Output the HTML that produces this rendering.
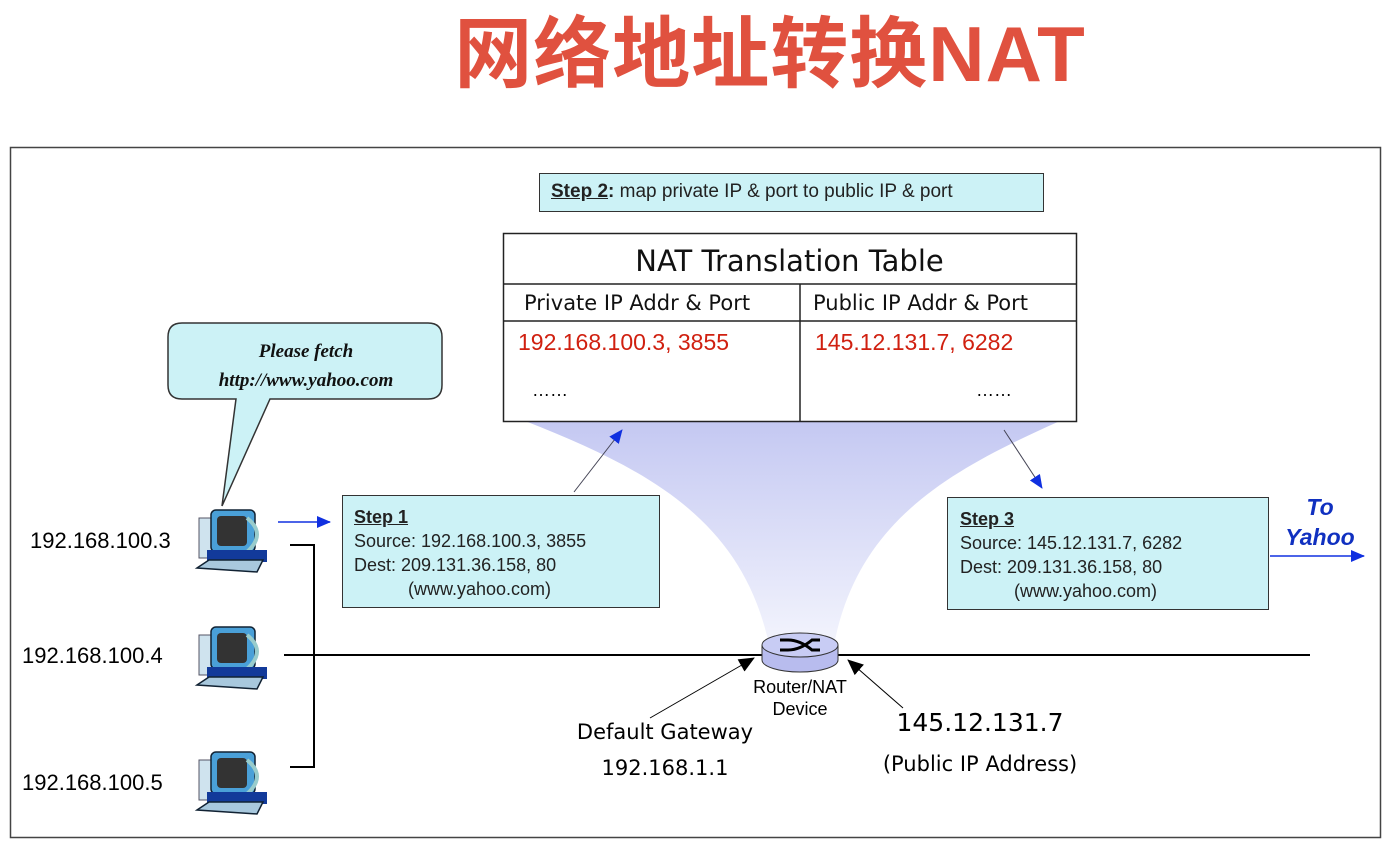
<!DOCTYPE html>
<html><head><meta charset="utf-8"><style>
body{margin:0;width:1394px;height:849px;background:#fff;position:relative;overflow:hidden;font-family:"Liberation Sans",sans-serif}
.a{position:absolute}
</style></head><body>
<div class="a" style="left:0;width:1540px;top:-8px;text-align:center;font:bold 78px 'Liberation Sans','Noto Sans CJK SC',sans-serif;color:#e0513f;letter-spacing:1px">网络地址转换NAT</div>
<svg class="a" style="left:0;top:0" width="1394" height="849">
<defs>
<linearGradient id="g" x1="0" y1="0" x2="0" y2="1"><stop offset="0" stop-color="#c4c8f2"/><stop offset="1" stop-color="#f4f5fd"/></linearGradient>
<marker id="bl" markerWidth="14" markerHeight="12" refX="13" refY="6" orient="auto" markerUnits="userSpaceOnUse"><path d="M0,0 L14,6 L0,12z" fill="#1030e0"/></marker>
<marker id="bk" markerWidth="16" markerHeight="14" refX="15" refY="7" orient="auto" markerUnits="userSpaceOnUse"><path d="M0,0 L16,7 L0,14z" fill="#000"/></marker>
<g id="pc">
<rect x="2" y="8" width="14" height="40" fill="#cfe3ee" stroke="#556" stroke-width="1"/>
<rect x="14" y="0" width="44" height="42" rx="5" fill="#4aa0d8" stroke="#123" stroke-width="1.5"/>
<rect x="20" y="6" width="30" height="30" rx="4" fill="#333"/>
<path d="M50,8 q20,16 0,34" stroke="#9cc" stroke-width="4" fill="none"/>
<rect x="10" y="40" width="60" height="12" fill="#123a9a"/>
<path d="M0,58 L12,50 L66,50 L60,62 Z" fill="#a8c8dd" stroke="#123" stroke-width="1.5"/>
</g>
</defs>
<rect x="10.5" y="147.5" width="1370" height="690" fill="none" stroke="#444" stroke-width="1.5"/>
<path d="M525,421 L1060,421 C950,470 860,520 835,640 L815,650 L790,650 L768,640 C740,520 650,470 525,421Z" fill="url(#g)"/>
<rect x="539.5" y="173.5" width="504" height="38" fill="#ccf2f6" stroke="#333"/>
<rect x="503.5" y="233.5" width="573" height="188" fill="#fff" stroke="#222" stroke-width="1.5"/>
<line x1="503" y1="284" x2="1076" y2="284" stroke="#222" stroke-width="1.5"/>
<line x1="503" y1="321" x2="1076" y2="321" stroke="#222" stroke-width="1.5"/>
<line x1="800" y1="284" x2="800" y2="421" stroke="#222" stroke-width="1.5"/>
<rect x="342.5" y="495.5" width="317" height="112" fill="#ccf2f6" stroke="#333"/>
<rect x="947.5" y="497.5" width="321" height="112" fill="#ccf2f6" stroke="#333"/>
<path d="M182,323 L428,323 Q442,323 442,337 L442,385 Q442,399 428,399 L270,399 L222,506 L236,399 L182,399 Q168,399 168,385 L168,337 Q168,323 182,323Z" fill="#ccf2f6" stroke="#333" stroke-width="1.5"/>
<line x1="284" y1="655" x2="1310" y2="655" stroke="#000" stroke-width="2"/>
<path d="M290,545 L314,545 L314,767 L290,767" fill="none" stroke="#000" stroke-width="2"/>
<line x1="278" y1="522" x2="330" y2="522" stroke="#1030e0" stroke-width="1.5" marker-end="url(#bl)"/>
<line x1="1270" y1="556" x2="1364" y2="556" stroke="#1030e0" stroke-width="1.5" marker-end="url(#bl)"/>
<line x1="574" y1="492" x2="622" y2="430" stroke="#445" stroke-width="1" marker-end="url(#bl)"/>
<line x1="1004" y1="430" x2="1042" y2="488" stroke="#445" stroke-width="1" marker-end="url(#bl)"/>
<ellipse cx="800" cy="660" rx="38" ry="12" fill="#b8bcee" stroke="#333"/>
<rect x="762" y="645" width="76" height="15" fill="#b8bcee"/>
<line x1="762" y1="645" x2="762" y2="660" stroke="#333"/><line x1="838" y1="645" x2="838" y2="660" stroke="#333"/>
<ellipse cx="800" cy="645" rx="38" ry="12" fill="#c8ccf4" stroke="#333"/>
<path d="M780,640 h8 q12,0 24,10 h8 M780,650 h8 q12,0 24,-10 h8" stroke="#000" stroke-width="3" fill="none"/>
<line x1="650" y1="718" x2="754" y2="658" stroke="#000" stroke-width="1" marker-end="url(#bk)"/>
<line x1="903" y1="708" x2="848" y2="660" stroke="#000" stroke-width="1" marker-end="url(#bk)"/>
<use href="#pc" x="197" y="510"/><use href="#pc" x="197" y="627"/><use href="#pc" x="197" y="752"/>
</svg>
<div class="a" style="left:551px;top:181px;font-size:19px;color:#222"><b><u>Step 2</u>:</b> map private IP &amp; port to public IP &amp; port</div>
<div class="a" style="left:503px;width:573px;top:244px;text-align:center;font:29px 'DejaVu Sans',sans-serif;color:#111">NAT Translation Table</div>
<div class="a" style="left:524px;top:291px;font:21px 'DejaVu Sans',sans-serif;color:#111">Private IP Addr &amp; Port</div>
<div class="a" style="left:813px;top:291px;font:21px 'DejaVu Sans',sans-serif;color:#111">Public IP Addr &amp; Port</div>
<div class="a" style="left:518px;top:329px;font-size:23px;color:#d02010">192.168.100.3, 3855</div>
<div class="a" style="left:815px;top:329px;font-size:23px;color:#d02010">145.12.131.7, 6282</div>
<div class="a" style="left:532px;top:380px;font-size:18px">……</div>
<div class="a" style="left:976px;top:380px;font-size:18px">……</div>
<div class="a" style="left:170px;width:272px;top:337px;text-align:center;font:italic bold 19px/29px 'Liberation Serif',serif;color:#111">Please fetch<br>http://www.yahoo.com</div>
<div class="a" style="left:354px;top:505px;font-size:18px;line-height:24px;color:#222"><b><u>Step 1</u></b><br>Source: 192.168.100.3, 3855<br>Dest: 209.131.36.158, 80<br><span style="padding-left:54px">(www.yahoo.com)</span></div>
<div class="a" style="left:960px;top:507px;font-size:18px;line-height:24px;color:#222"><b><u>Step 3</u></b><br>Source: 145.12.131.7, 6282<br>Dest: 209.131.36.158, 80<br><span style="padding-left:54px">(www.yahoo.com)</span></div>
<div class="a" style="left:1270px;width:100px;top:492px;text-align:center;font:italic bold 23px/30px 'Liberation Sans',sans-serif;color:#1030c0">To<br>Yahoo</div>
<div class="a" style="left:30px;top:528px;font-size:22px">192.168.100.3</div>
<div class="a" style="left:22px;top:643px;font-size:22px">192.168.100.4</div>
<div class="a" style="left:22px;top:770px;font-size:22px">192.168.100.5</div>
<div class="a" style="left:730px;width:140px;top:676px;text-align:center;font-size:18px;line-height:22px">Router/NAT<br>Device</div>
<div class="a" style="left:560px;width:210px;top:714px;text-align:center;font:21px/36px 'DejaVu Sans',sans-serif">Default Gateway<br>192.168.1.1</div>
<div class="a" style="left:860px;width:240px;top:703px;text-align:center;font:21px/40px 'DejaVu Sans',sans-serif"><span style="font-size:25px">145.12.131.7</span><br>(Public IP Address)</div>
</body></html>
